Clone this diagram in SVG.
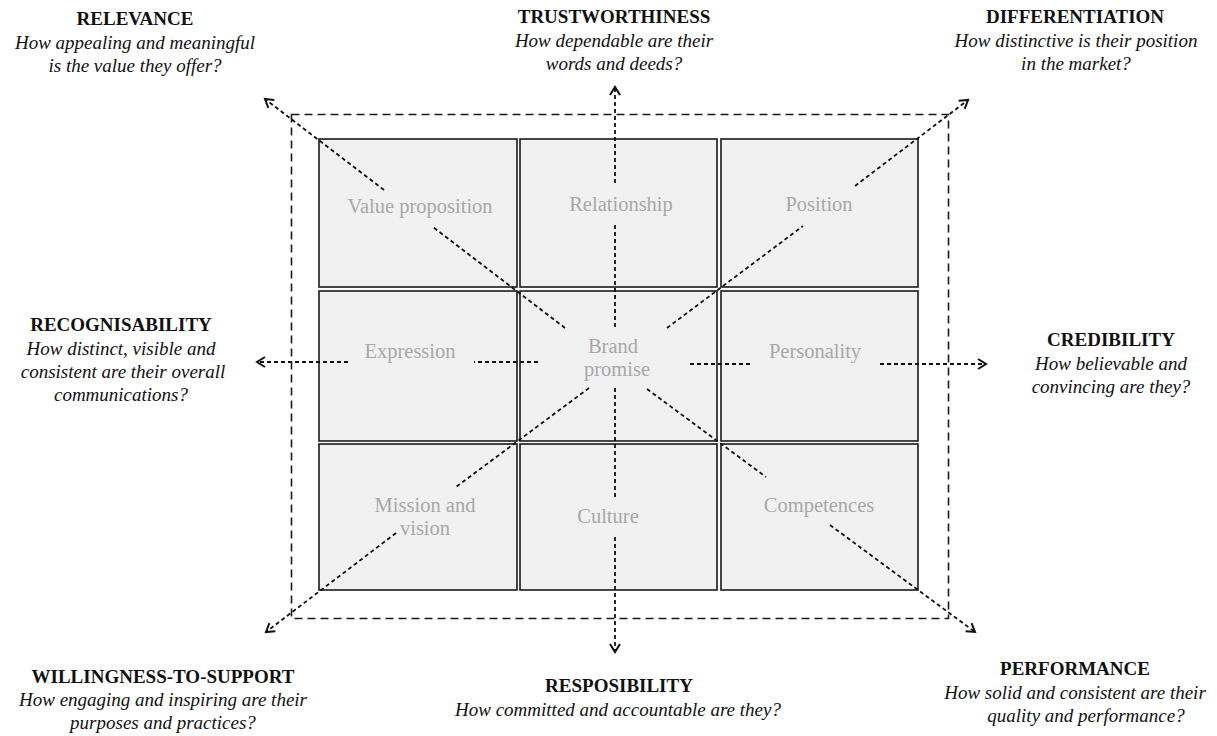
<svg xmlns="http://www.w3.org/2000/svg" width="1217" height="736" viewBox="0 0 1217 736">
<style>
.cell{fill:#f1f1f1;stroke:#1a1a1a;stroke-width:1.6}
.lbl{font-family:"Liberation Serif",serif;font-size:20.5px;fill:#a8a8a8;text-anchor:middle}
.ttl{font-family:"Liberation Serif",serif;font-size:19px;font-weight:bold;fill:#111;text-anchor:middle}
.q{font-family:"Liberation Serif",serif;font-size:19px;font-style:italic;fill:#111;text-anchor:middle}
.dash{fill:none;stroke:#111;stroke-width:1.8;stroke-dasharray:4 3}
.arr{fill:none;stroke:#111;stroke-width:1.8;stroke-dasharray:4 3;marker-end:url(#ah)}
.frame{fill:none;stroke:#1a1a1a;stroke-width:1.6;stroke-dasharray:8 5}
</style>
<defs>
<marker id="ah" markerUnits="userSpaceOnUse" markerWidth="14" markerHeight="14" refX="9" refY="6" orient="auto" viewBox="0 0 14 14">
<path d="M1,1 L9,6 L1,11" fill="none" stroke="#111" stroke-width="2"/>
</marker>
</defs>
<rect width="1217" height="736" fill="#ffffff"/>

<g id="grid">
<g id="cell-value-proposition"><rect class="cell" x="319" y="139" width="198" height="148"/><text class="lbl" x="420" y="213">Value proposition</text></g>
<g id="cell-relationship"><rect class="cell" x="520" y="139" width="197" height="148"/><text class="lbl" x="621" y="211">Relationship</text></g>
<g id="cell-position"><rect class="cell" x="721" y="139" width="197" height="148"/><text class="lbl" x="819" y="211">Position</text></g>
<g id="cell-expression"><rect class="cell" x="319" y="291" width="198" height="150"/><text class="lbl" x="410" y="358">Expression</text></g>
<g id="cell-brand-promise"><rect class="cell" x="520" y="291" width="197" height="150"/><text class="lbl" x="613" y="353">Brand</text><text class="lbl" x="617" y="376">promise</text></g>
<g id="cell-personality"><rect class="cell" x="721" y="291" width="197" height="150"/><text class="lbl" x="815" y="358">Personality</text></g>
<g id="cell-mission"><rect class="cell" x="319" y="444" width="198" height="146"/><text class="lbl" x="425" y="512">Mission and</text><text class="lbl" x="425" y="535">vision</text></g>
<g id="cell-culture"><rect class="cell" x="520" y="444" width="197" height="146"/><text class="lbl" x="608" y="523">Culture</text></g>
<g id="cell-competences"><rect class="cell" x="721" y="444" width="197" height="146"/><text class="lbl" x="819" y="512">Competences</text></g>
</g>

<g id="frame"><rect class="frame" x="291.5" y="114.5" width="657" height="504"/></g>

<g id="connectors">
<line class="dash" x1="565" y1="328" x2="433" y2="227"/>
<line class="arr" x1="384" y1="190" x2="265" y2="99"/>
<line class="dash" x1="615" y1="327" x2="615" y2="225"/>
<line class="arr" x1="615" y1="183" x2="615" y2="87"/>
<line class="dash" x1="667" y1="328" x2="803" y2="226"/>
<line class="arr" x1="855" y1="186" x2="968" y2="100"/>
<line class="dash" x1="538" y1="362" x2="474" y2="362"/>
<line class="arr" x1="348" y1="362" x2="257" y2="362"/>
<line class="dash" x1="690" y1="364" x2="752" y2="364"/>
<line class="arr" x1="880" y1="364" x2="986" y2="364"/>
<line class="dash" x1="589" y1="388" x2="456" y2="487"/>
<line class="arr" x1="396" y1="533" x2="266" y2="632"/>
<line class="dash" x1="615" y1="388" x2="615" y2="497"/>
<line class="arr" x1="615" y1="537" x2="615" y2="652"/>
<line class="dash" x1="647" y1="389" x2="766" y2="477"/>
<line class="arr" x1="830" y1="525" x2="975" y2="632"/>
</g>

<g id="relevance"><text class="ttl" x="135" y="25">RELEVANCE</text><text class="q" x="135" y="49">How appealing and meaningful</text><text class="q" x="135" y="72">is the value they offer?</text></g>
<g id="trustworthiness"><text class="ttl" x="614" y="23">TRUSTWORTHINESS</text><text class="q" x="614" y="47">How dependable are their</text><text class="q" x="614" y="70">words and deeds?</text></g>
<g id="differentiation"><text class="ttl" x="1075" y="23">DIFFERENTIATION</text><text class="q" x="1076" y="47">How distinctive is their position</text><text class="q" x="1076" y="70">in the market?</text></g>
<g id="recognisability"><text class="ttl" x="121" y="331">RECOGNISABILITY</text><text class="q" x="121" y="355">How distinct, visible and</text><text class="q" x="123" y="378">consistent are their overall</text><text class="q" x="121" y="401">communications?</text></g>
<g id="credibility"><text class="ttl" x="1111" y="346">CREDIBILITY</text><text class="q" x="1111" y="370">How believable and</text><text class="q" x="1111" y="393">convincing are they?</text></g>
<g id="willingness"><text class="ttl" x="163" y="683">WILLINGNESS-TO-SUPPORT</text><text class="q" x="163" y="706">How engaging and inspiring are their</text><text class="q" x="163" y="729">purposes and practices?</text></g>
<g id="responsibility"><text class="ttl" x="619" y="692">RESPOSIBILITY</text><text class="q" x="618" y="716">How committed and accountable are they?</text></g>
<g id="performance"><text class="ttl" x="1075" y="675">PERFORMANCE</text><text class="q" x="1075" y="699">How solid and consistent are their</text><text class="q" x="1086" y="722">quality and performance?</text></g>
</svg>
